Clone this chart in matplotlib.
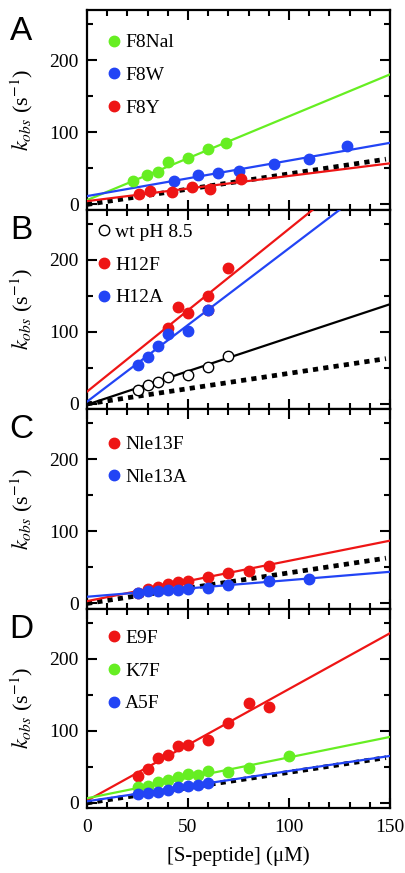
import numpy as np
import matplotlib.pyplot as plt
from matplotlib.ticker import MultipleLocator

plt.rcParams['font.family'] = ['Liberation Serif', 'DejaVu Serif']
plt.rcParams['mathtext.fontset'] = 'stix'

GREEN = '#66ee22'
BLUE = '#2244f5'
RED = '#ee1515'

# reference line (dotted, same in every panel): kobs = ref_slope * x + ref_int
ref_slope, ref_int = 0.425, 0.0
ref_x = [0, 148]

# ---- panel A ----
a_nal_x = [23, 29.5, 35, 40, 50, 60, 69]
a_nal_y = [32.9, 41.2, 45.4, 59.3, 63.9, 77.3, 85.6]
a_nal_fit = (1.164, 6.0)
a_w_x = [43, 55, 65, 75, 92.5, 110, 128.5]
a_w_y = [32.9, 40.7, 43.5, 46.8, 56.5, 63.4, 81.5]
a_w_fit = (0.493, 11.6)
a_y_x = [25.7, 31, 42.3, 52, 60.7, 76.4]
a_y_y = [14.8, 18.5, 17.6, 24.1, 20.8, 34.7]
a_y_fit = (0.35, 4.6)

# ---- panel B ----
b_wt_x = [25, 30, 35, 40, 50, 60, 70]
b_wt_y = [19.9, 26.9, 30.1, 37.0, 40.7, 50.9, 66.2]
b_wt_fit = (0.93, -1.0)
b_f_x = [40, 45, 50, 60, 60, 70]
b_f_y = [105.6, 134.3, 125.9, 149.5, 131, 188.4]
b_f_fit = (2.26, 17.1)
b_a_x = [25, 30, 35, 40, 50, 60]
b_a_y = [54.6, 65.7, 81.0, 97.2, 101.9, 131]
b_a_fit = (2.13, 3.2)

# ---- panel C ----
c_f_x = [25, 30, 35, 40, 45, 50, 60, 70, 80, 90]
c_f_y = [14.8, 19.4, 23.1, 26.4, 30.1, 31.0, 37.0, 42.6, 45.4, 52.3]
c_f_fit = (0.56, 3.2)
c_a_x = [25, 30, 35, 40, 45, 50, 60, 70, 90, 110]
c_a_y = [14.8, 17.6, 17.1, 18.5, 18.5, 19.9, 20.8, 25.0, 31.5, 33.3]
c_a_fit = (0.231, 9.3)

# ---- panel D ----
d_e_x = [25, 30, 35, 40, 45, 50, 60, 70, 80, 90]
d_e_y = [36.9, 47.0, 62.2, 66.8, 79.3, 80.6, 87.6, 110.6, 138.2, 133.6]
d_e_fit = (1.55, 3.2)
d_k_x = [25, 30, 35, 40, 45, 50, 55, 60, 70, 80, 100]
d_k_y = [22.6, 24.0, 28.6, 32.3, 35.5, 40.1, 39.2, 43.8, 42.4, 48.4, 65.4]
d_k_fit = (0.568, 6.5)
d_a_x = [25, 30, 35, 40, 45, 50, 55, 60]
d_a_y = [12.4, 13.4, 15.7, 18.0, 21.7, 23.0, 25.3, 27.2]
d_a_fit = (0.42, 2.3)

# legend anchor (x, y in axes fraction) per panel
panels = [
    ('A', [('F8Nal', a_nal_x, a_nal_y, a_nal_fit, GREEN, True),
           ('F8W', a_w_x, a_w_y, a_w_fit, BLUE, True),
           ('F8Y', a_y_x, a_y_y, a_y_fit, RED, True)], 0.92, 0.045),
    ('B', [('wt pH 8.5', b_wt_x, b_wt_y, b_wt_fit, 'black', False),
           ('H12F', b_f_x, b_f_y, b_f_fit, RED, True),
           ('H12A', b_a_x, b_a_y, b_a_fit, BLUE, True)], 0.97, 0.012),
    ('C', [('Nle13F', c_f_x, c_f_y, c_f_fit, RED, True),
           ('Nle13A', c_a_x, c_a_y, c_a_fit, BLUE, True)], 0.905, 0.045),
    ('D', [('E9F', d_e_x, d_e_y, d_e_fit, RED, True),
           ('K7F', d_k_x, d_k_y, d_k_fit, GREEN, True),
           ('A5F', d_a_x, d_a_y, d_a_fit, BLUE, True)], 0.935, 0.045),
]

fig = plt.figure(figsize=(4.05, 8.73), dpi=100)
left, right = 87 / 405, 390 / 405
top, bottom = 1 - 10 / 873, 1 - 808 / 873
h = (top - bottom) / 4

xfit = np.array([0, 150])
for i, (letter, series, leg_y, leg_x) in enumerate(panels):
    ax = fig.add_axes([left, top - (i + 1) * h, right - left, h])

    # dotted reference line
    rx = np.array(ref_x)
    ax.plot(rx, ref_slope * rx + ref_int, color='black', lw=3.4,
            linestyle=(0, (1.1, 1.1)), zorder=2)

    handles = []
    for name, xs, ys, (m, b), col, filled in series:
        ax.plot(xfit, m * xfit + b, color=col, lw=1.6, zorder=3)
        if filled:
            hd, = ax.plot(xs, ys, 'o', ms=7.5, color=col, mec=col, zorder=4, label=name)
        else:
            hd, = ax.plot(xs, ys, 'o', ms=7.5, mfc='white', mec='black',
                          mew=1.0, zorder=4, label=name)
        handles.append(hd)

    ax.legend(handles=handles, loc='upper left', frameon=False, fontsize=14,
              handlelength=0.6, handletextpad=0.25, labelspacing=0.78,
              borderaxespad=0, bbox_to_anchor=(leg_x, leg_y),
              numpoints=1)

    ax.set_xlim(0, 150)
    ax.set_ylim(-7, 270)
    ax.xaxis.set_major_locator(MultipleLocator(50))
    ax.xaxis.set_minor_locator(MultipleLocator(10))
    ax.yaxis.set_major_locator(MultipleLocator(100))
    ax.yaxis.set_minor_locator(MultipleLocator(50))
    ax.tick_params(which='both', direction='in', top=True, right=True, width=1.5,
                   labelsize=14)
    ax.tick_params(which='major', length=7)
    ax.tick_params(which='minor', length=4.5)
    ax.tick_params(axis='y', pad=6)
    ax.tick_params(axis='x', pad=8)
    for sp in ax.spines.values():
        sp.set_linewidth(1.6)
    ax.set_ylabel(r'$k_{obs}$ (s$^{\mathrm{-1}}$)', fontsize=16, labelpad=10)
    if i < 3:
        ax.tick_params(axis='x', labelbottom=False)
    else:
        ax.set_xlabel('[S-peptide] (\u03bcM)', fontsize=15, labelpad=7)

    ax.text(-0.218, 1 - 21 / 199.5, letter, transform=ax.transAxes,
            ha='center', va='center', fontsize=24, family='Liberation Sans')

fig.savefig('out.png', dpi=100)
